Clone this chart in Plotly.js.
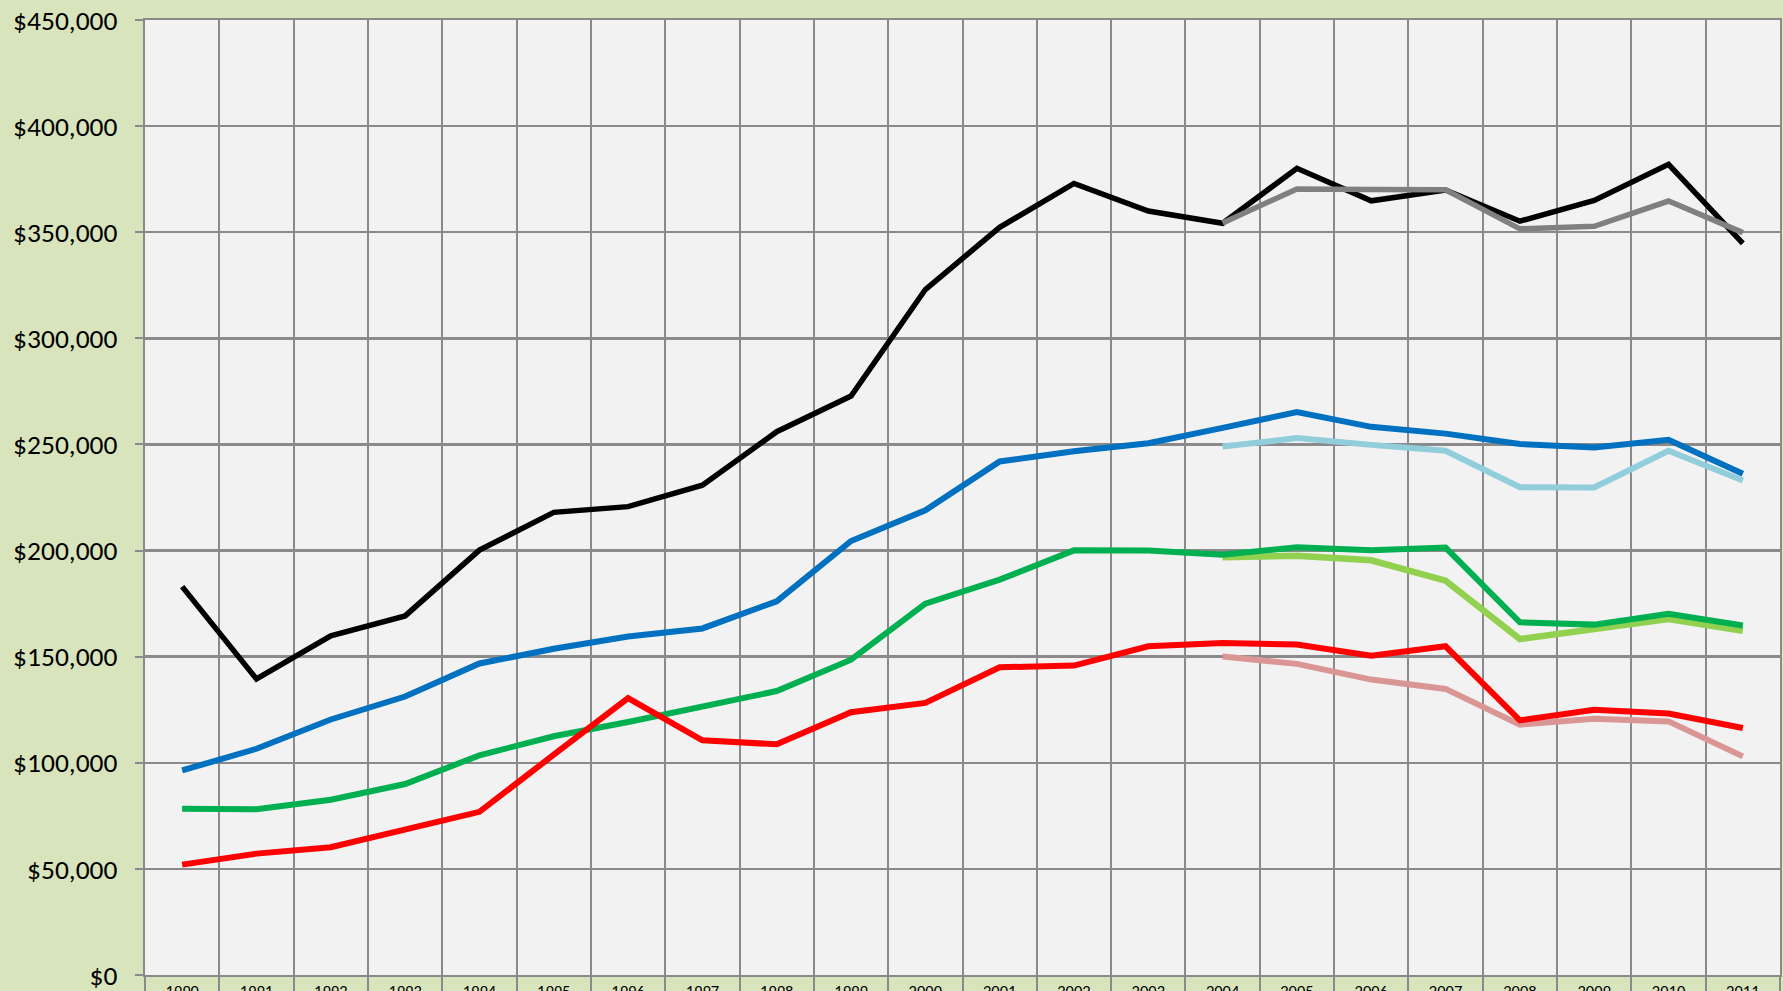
<!DOCTYPE html>
<html>
<head>
<meta charset="utf-8">
<script src="https://cdn.plot.ly/plotly-3.0.1.min.js"></script>
<style>
html,body{margin:0;padding:0;overflow:hidden;background:#D8E4BC;}
#chart{width:1783px;height:1010px;}
</style>
</head>
<body>
<div id="chart"></div>
<script>
var years = [1990,1991,1992,1993,1994,1995,1996,1997,1998,1999,2000,2001,2002,2003,2004,2005,2006,2007,2008,2009,2010,2011];
var yearLabels = years.map(String);
var laterYears = [2004,2005,2006,2007,2008,2009,2010,2011];

var blackSeries = [183000,139500,159800,169200,200200,218000,220700,230800,256000,272800,323000,352300,373000,360000,354200,380100,364800,369900,355200,365000,382000,344800];
var blueSeries = [96400,106600,120400,131200,146800,153700,159500,163300,176100,204500,219000,242000,246800,250600,257800,265300,258300,255100,250200,248600,252200,236200];
var greenSeries = [78300,78100,82600,90000,103500,112500,119200,126600,133800,148600,175000,186300,200100,200000,198000,201600,200100,201400,166200,165100,170200,164700];
var redSeries = [52000,57200,60200,68800,76900,103800,130500,110600,108700,123800,128200,145000,145800,154900,156400,155700,150400,154900,120000,125000,123200,116400];

var graySeries = [354400,370400,370100,370000,351600,352800,364700,349800];
var lightBlueSeries = [249000,253000,249800,247000,229800,229700,247000,233000];
var lightGreenSeries = [196900,197600,195400,185800,158300,162700,167700,162200];
var pinkSeries = [150100,146600,139200,134800,118000,120800,119500,103000];

var boundaries = [];
for (var i = 0; i <= years.length; i++) boundaries.push(years[0] - 0.5 + i);

function tr(x, y, color, w) {
  return {x: x, y: y, type: 'scatter', mode: 'lines', line: {color: color, width: w}, hoverinfo: 'skip', showlegend: false};
}

var data = [
  tr(laterYears, lightBlueSeries, '#92CDDC', 6),
  tr(laterYears, lightGreenSeries, '#92D050', 6.5),
  tr(laterYears, pinkSeries, '#DA9694', 6),
  tr(years, blackSeries, '#000000', 5.5),
  tr(laterYears, graySeries, '#808080', 5.5),
  tr(years, blueSeries, '#0070C0', 6),
  tr(years, greenSeries, '#00B050', 6),
  tr(years, redSeries, '#FF0000', 6)
];

var grid = '#8A8A8A';
var layout = {
  width: 1783, height: 1010,
  margin: {l: 145, r: 3, t: 20, b: 35},
  paper_bgcolor: '#D8E4BC',
  plot_bgcolor: '#F2F2F2',
  showlegend: false,
  xaxis: {
    type: 'linear',
    range: [1989.5, 2011.5],
    tickmode: 'array',
    tickvals: years,
    ticktext: yearLabels,
    showgrid: false,
    zeroline: false,
    ticks: '',
    tickfont: {family: 'Carlito, Liberation Sans, Arial, sans-serif', size: 16.5, color: '#000'},
    showline: true, linecolor: grid, linewidth: 2, mirror: true,
    minor: {tickmode: 'array', tickvals: boundaries, showgrid: true, gridcolor: grid, gridwidth: 2,
            ticks: 'outside', ticklen: 30, tickwidth: 2, tickcolor: grid}
  },
  yaxis: {
    range: [0, 450000],
    tickmode: 'linear', tick0: 0, dtick: 50000,
    tickformat: '$,.0f',
    showgrid: true, gridcolor: grid, gridwidth: 2.5,
    zeroline: false,
    ticks: 'outside', ticklen: 8, tickwidth: 2, tickcolor: grid,
    ticklabelstandoff: 12,
    tickfont: {family: 'Carlito, Liberation Sans, Arial, sans-serif', size: 27.5, color: '#000'},
    showline: true, linecolor: grid, linewidth: 2, mirror: true
  }
};

Plotly.newPlot('chart', data, layout, {displayModeBar: false, staticPlot: true});
</script>
</body>
</html>
